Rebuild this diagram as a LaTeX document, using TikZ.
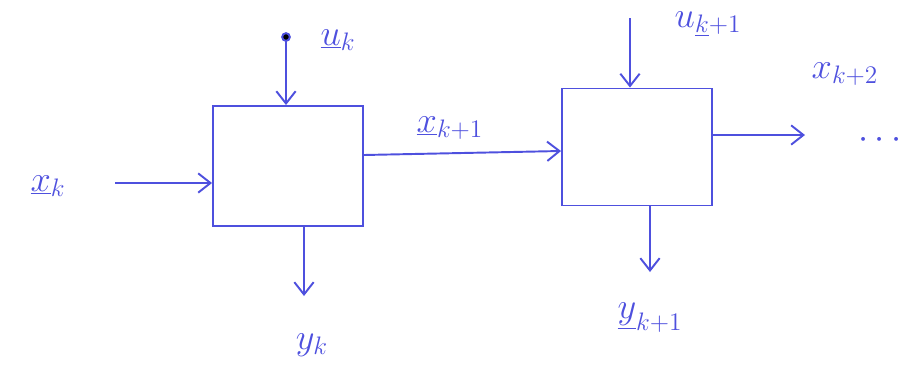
\documentclass[tikz,border=0pt]{standalone}
\usetikzlibrary{arrows.meta}
\definecolor{pen}{RGB}{78,80,222}
\begin{document}
\begin{tikzpicture}[x=0.02cm,y=-0.02cm,
  pen/.style={draw=pen,line width=1.1pt},
  arr/.style={pen,-{Straight Barb[length=7pt,width=11pt]}},
  lbl/.style={text=pen,font=\huge,inner sep=0pt},
  blockbox/.style={pen,minimum width=3cm,minimum height=2.4cm,inner sep=0pt}]
\useasboundingbox (0,0) rectangle (921,383);
% blocks
\node[blockbox] (b1) at (288,166) {};
\node[blockbox,minimum height=2.34cm] (b2) at (637,147) {};
% coordinates for free ends
\coordinate (xin) at (115,183);
\coordinate (uk) at (286,37);
\coordinate (uk1) at (630,18);
\coordinate (yk) at (304,296);
\coordinate (yk1) at (650,272);
\coordinate (xout) at (805,135);
\coordinate (mid1) at (0,155);
\coordinate (mid2) at (0,151);
% connectors
\draw[arr] (xin) -- (xin -| b1.west);
\draw[arr] (uk) -- (uk |- b1.north);
\draw[arr] (b1.east |- mid1) -- (b2.west |- mid2);
\draw[arr] (uk1) -- (uk1 |- b2.north);
\draw[arr] (yk |- b1.south) -- (yk);
\draw[arr] (yk1 |- b2.south) -- (yk1);
\draw[arr] (xout -| b2.east) -- (xout);
\fill[pen] (uk) circle (2.2pt);
% labels
\node[lbl] (lxk) at (48,186) {$\underline{x}_{k}$};
\node[lbl] (luk) at (338,40) {$\underline{u}_{k}$};
\node[lbl] (lxk1) at (450,128) {$\underline{x}_{k+1}$};
\node[lbl] (luk1) at (708,24) {$u_{\underline{k}+1}$};
\node[lbl] (lxk2) at (845,74) {$x_{k+2}$};
\node[lbl] (lyk) at (312,345) {$y_{k}$};
\node[lbl] (lyk1) at (650,318) {$\underline{y}_{k+1}$};
\node[lbl] (dots) at (880,140) {$\cdots$};
\end{tikzpicture}
\end{document}
